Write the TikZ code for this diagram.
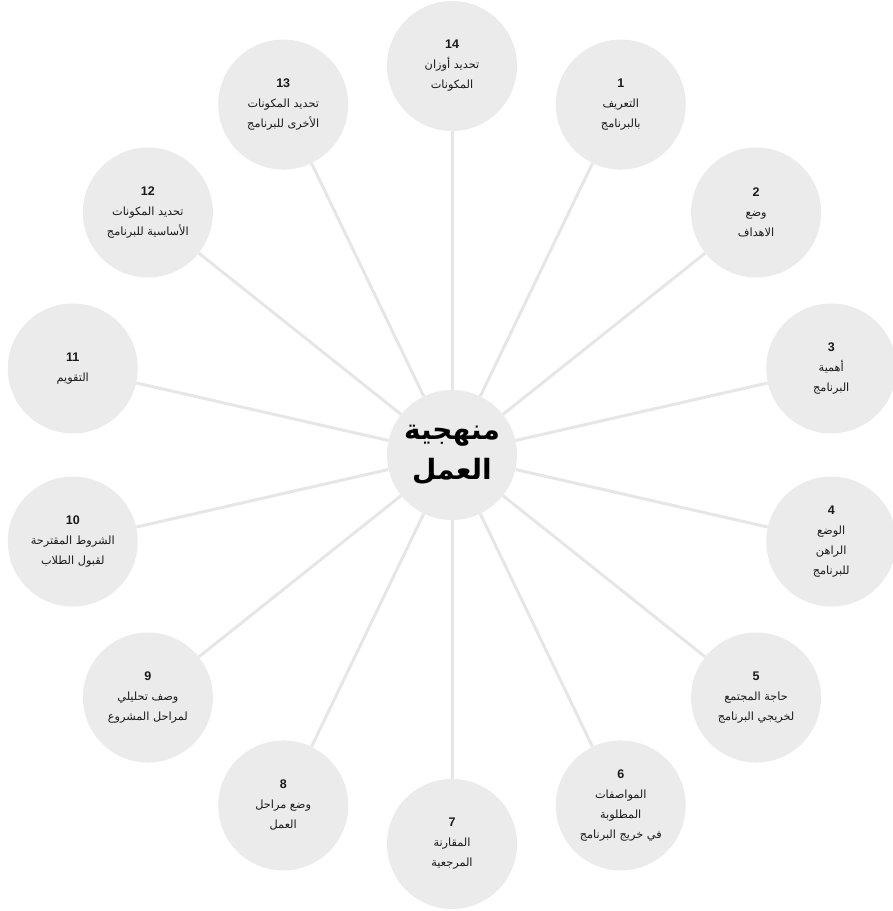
\documentclass[tikz,border=0pt]{standalone}
\usepackage{fontspec}
\setmainfont{Liberation Sans}
\newfontfamily\arabicfont[Script=Arabic]{DejaVu Sans}
\TeXXeTstate=1
\definecolor{circfill}{HTML}{EBEBEB}
\definecolor{connline}{HTML}{E6E6E6}
\definecolor{txt}{HTML}{1A1A1A}
\newcommand\artxt[1]{{\arabicfont\beginR #1\endR}}
\newcommand\numtxt[1]{{\bfseries\fontsize{12.5}{20}\selectfont #1}}
\tikzset{
  outer/.style={circle, fill=circfill, minimum size=130pt, inner sep=0pt, align=center,
    text=txt, font=\fontsize{11.3}{20}\selectfont},
  centre/.style={circle, fill=circfill, minimum size=130pt, inner sep=0pt, align=center,
    text=black, font=\fontsize{28}{40}\selectfont\bfseries},
  conn/.style={draw=connline, line width=3pt}
}
\newcommand\placecirc[3]{\node[outer] (n#1) at ({452+389*sin(#2)},{455-389*cos(#2)}) {#3};}
\begin{document}
\begin{tikzpicture}[x=1pt,y=-1pt]
\useasboundingbox (0,0) rectangle (893,911);
\clip (0,0) rectangle (893,911);
\node[centre] (c) at (452,455) {\artxt{منهجية}\\\artxt{العمل}};
\placecirc{1}{25.714}{\numtxt{1}\\\artxt{التعريف}\\\artxt{بالبرنامج}}
\placecirc{2}{51.429}{\numtxt{2}\\\artxt{وضع}\\\artxt{الاهداف}}
\placecirc{3}{77.143}{\numtxt{3}\\\artxt{أهمية}\\\artxt{البرنامج}}
\placecirc{4}{102.857}{\numtxt{4}\\\artxt{الوضع}\\\artxt{الراهن}\\\artxt{للبرنامج}}
\placecirc{5}{128.571}{\numtxt{5}\\\artxt{حاجة المجتمع}\\\artxt{لخريجي البرنامج}}
\placecirc{6}{154.286}{\numtxt{6}\\\artxt{المواصفات}\\\artxt{المطلوبة}\\\artxt{في خريج البرنامج}}
\placecirc{7}{180}{\numtxt{7}\\\artxt{المقارنة}\\\artxt{المرجعية}}
\placecirc{8}{205.714}{\numtxt{8}\\\artxt{وضع مراحل}\\\artxt{العمل}}
\placecirc{9}{231.429}{\numtxt{9}\\\artxt{وصف تحليلي}\\\artxt{لمراحل المشروع}}
\placecirc{10}{257.143}{\numtxt{10}\\\artxt{الشروط المقترحة}\\\artxt{لقبول الطلاب}}
\placecirc{11}{282.857}{\numtxt{11}\\\artxt{التقويم}}
\placecirc{12}{308.571}{\numtxt{12}\\\artxt{تحديد المكونات}\\\artxt{الأساسية للبرنامج}}
\placecirc{13}{334.286}{\numtxt{13}\\\artxt{تحديد المكونات}\\\artxt{الأخرى للبرنامج}}
\placecirc{14}{0}{\numtxt{14}\\\artxt{تحديد أوزان}\\\artxt{المكونات}}
\foreach \k in {1,...,14} {\draw[conn] (c) -- (n\k);}
\end{tikzpicture}
\end{document}
